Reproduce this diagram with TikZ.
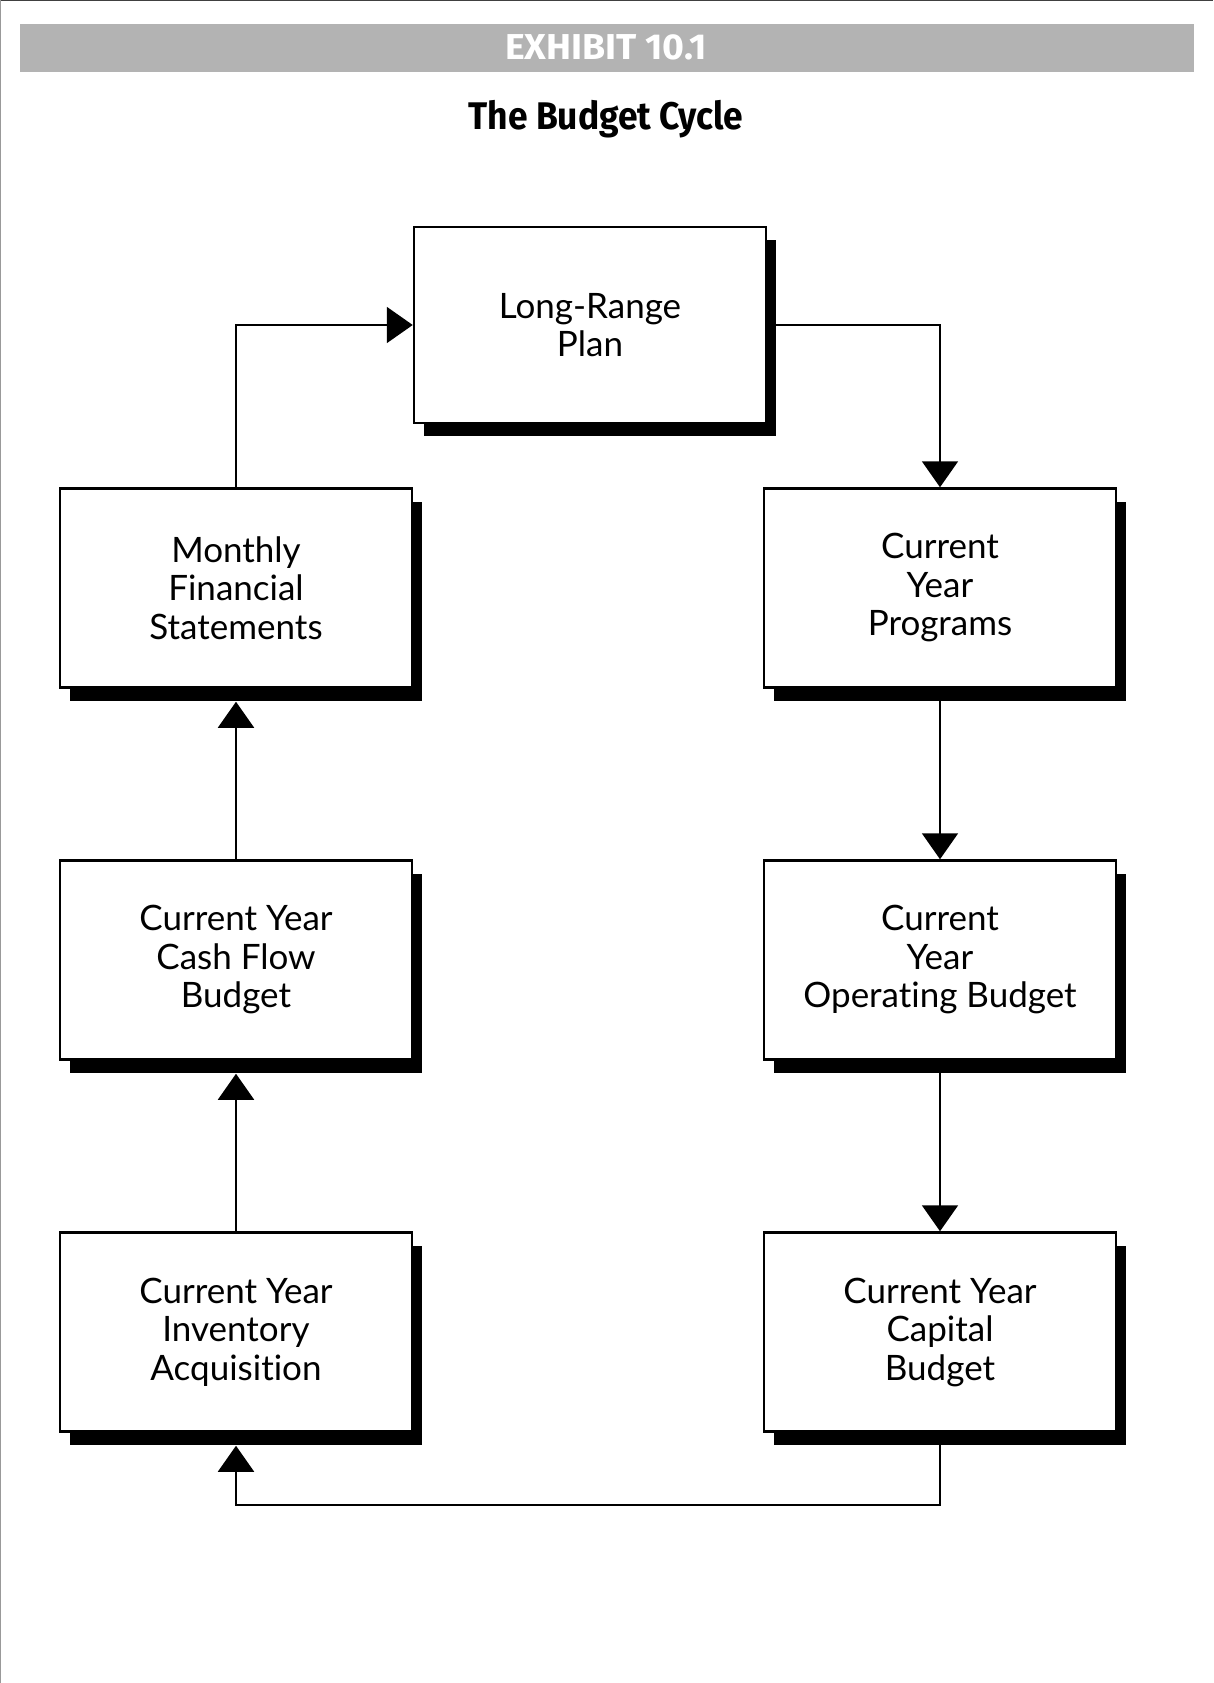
\documentclass[tikz,border=0pt]{standalone}
\usepackage{fontspec}
\setmainfont[Ligatures=NoCommon]{Lato}
\newfontfamily\titlefont[FakeStretch=0.92]{Fira Sans}
\newfontfamily\exfont[FakeStretch=1.04]{Fira Sans}
\usetikzlibrary{arrows.meta,shadows}
\definecolor{bannergray}{RGB}{179,179,179}
\begin{document}
\begin{tikzpicture}[x=1pt,y=-1pt,
  box/.style={draw, line width=2.5pt, fill=white, minimum width=352pt, minimum height=199pt,
    align=center, inner sep=0pt, font=\fontsize{35}{38.5}\selectfont,
    drop shadow={shadow xshift=10pt, shadow yshift=-13pt, opacity=1, fill=black}},
  conn/.style={line width=2pt},
  arr/.style={conn, -{Triangle[length=26pt,width=36pt]}}]
\useasboundingbox (0,0) rectangle (1213,1683);
% page edges
\draw[black!75, line width=1.5pt] (0,0.75) -- (1213,0.75);
\draw[black!40, line width=1.2pt] (0.6,0) -- (0.6,1683);
% header
\fill[bannergray] (20,24) rectangle (1194,72);
\node[anchor=base, text=white, inner sep=0pt, font=\exfont\bfseries\fontsize{36}{38}\selectfont] (ex) at (606,60) {EXHIBIT 10.1};
\node[anchor=base, inner sep=0pt, font=\titlefont\bfseries\fontsize{38.5}{40}\selectfont] (title) at (606,130) {The Budget Cycle};
% boxes
\node[box, minimum height=196pt] (lr) at (590,325) {Long-Range\\Plan};
\node[box] (mfs) at (236,588) {Monthly\\Financial\\Statements};
\node[box] (cyp) at (940,588) {Current\\Year\\Programs};
\node[box] (cf) at (236,960) {Current Year\\Cash Flow\\Budget};
\node[box] (ob) at (940,960) {Current\\Year\\Operating Budget};
\node[box] (inv) at (236,1332) {Current Year\\Inventory\\Acquisition};
\node[box] (cap) at (940,1332) {Current Year\\Capital\\Budget};
\coordinate (bot) at (0,1505);
% connectors
\draw[arr] (mfs.north) |- (lr.west);
\draw[arr] (lr.east) -| (cyp.north);
\draw[arr] (cyp.south) -- (ob.north);
\draw[arr] (ob.south) -- (cap.north);
\draw[arr] (cap.south) -- (cap.south |- bot) -| ([yshift=-13pt]inv.south);
\draw[arr] (inv.north) -- ([yshift=-13pt]cf.south);
\draw[arr] (cf.north) -- ([yshift=-13pt]mfs.south);
\end{tikzpicture}
\end{document}
